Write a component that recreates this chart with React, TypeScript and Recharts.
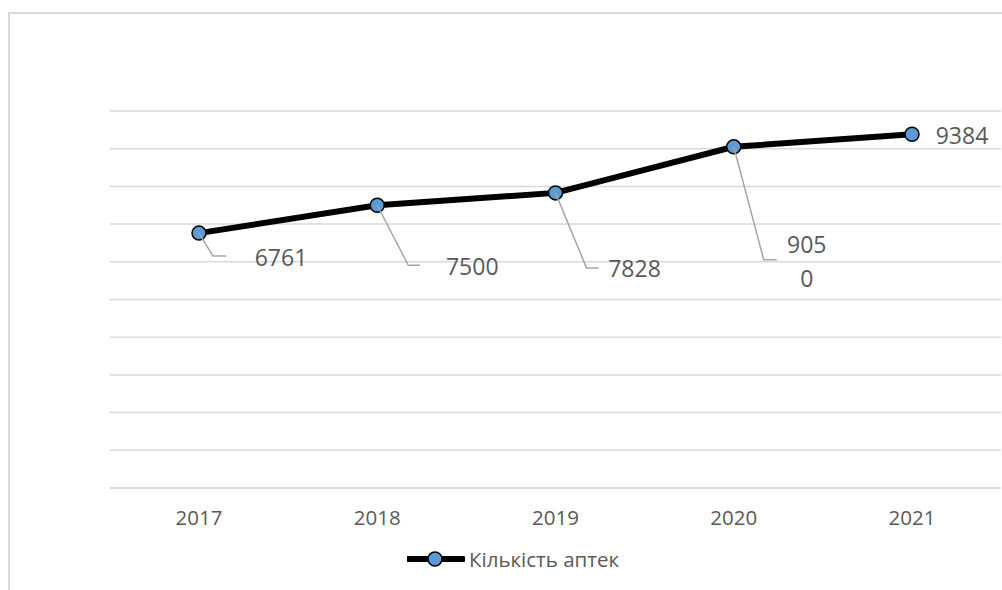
import { CartesianGrid, Line, LineChart, XAxis, YAxis } from "recharts";

const years = ["2017", "2018", "2019", "2020", "2021"];
const pharmacies = [6761, 7500, 7828, 9050, 9384];
const yTicks = [0, 1000, 2000, 3000, 4000, 5000, 6000, 7000, 8000, 9000, 10000];
const seriesName = "Кількість аптек";

const chartData = years.map((year, i) => ({ year, value: pharmacies[i] }));

const FONT = "'Open Sans', 'Noto Sans', sans-serif";
const TEXT = "#595959";
const GRID = "#d9d9d9";
const MARKER = "#5b9bd5";

// where each data label sits relative to its point, and the elbow of its leader line
const labelLayout = [
    { dx: 82, dy: 24, elbow: [14, 23], end: 27, wrap: 0 },
    { dx: 95, dy: 61, elbow: [31, 60], end: 43, wrap: 0 },
    { dx: 79, dy: 75, elbow: [31, 75], end: 43, wrap: 0 },
    { dx: 73, dy: 97, elbow: [30, 113], end: 43, wrap: 3 },
    { dx: 50, dy: 1, elbow: null, end: 0, wrap: 0 },
];

function LeaderLabel(props: any) {
    const { x, y, value, index } = props;
    const cfg = labelLayout[index];
    if (!cfg) return null;
    const text = String(value);
    const lines = cfg.wrap ? [text.slice(0, cfg.wrap), text.slice(cfg.wrap)] : [text];
    return (
        <g>
            {cfg.elbow && (
                <polyline
                    points={`${x},${y} ${x + cfg.elbow[0]},${y + cfg.elbow[1]} ${x + cfg.end},${y + cfg.elbow[1]}`}
                    fill="none"
                    stroke="#a6a6a6"
                    strokeWidth={1.5}
                />
            )}
            {lines.map((ln, i) => (
                <text
                    key={i}
                    x={x + cfg.dx}
                    y={y + cfg.dy + i * 34}
                    textAnchor="middle"
                    dominantBaseline="central"
                    fontFamily={FONT}
                    fontSize={23}
                    fill={TEXT}
                >
                    {ln}
                </text>
            ))}
        </g>
    );
}

function SeriesLegend() {
    return (
        <div
            style={{
                position: "absolute",
                left: 12,
                top: 545,
                width: 1002,
                display: "flex",
                justifyContent: "center",
                alignItems: "center",
                fontFamily: FONT,
                fontSize: 20.5,
                color: TEXT,
            }}
        >
            <svg width={58} height={20}>
                <line x1={1} y1={10} x2={56} y2={10} stroke="#000" strokeWidth={6} strokeLinecap="round" />
                <circle cx={28} cy={10} r={7} fill={MARKER} stroke="#000" strokeWidth={1.5} />
            </svg>
            <span style={{ marginLeft: 4 }}>{seriesName}</span>
        </div>
    );
}

export default function App() {
    return (
        <div style={{ position: "relative", width: 1002, height: 590, overflow: "hidden", background: "#fff" }}>
            <style>{`body{margin:0}`}</style>
            <div
                style={{
                    position: "absolute",
                    left: 8,
                    top: 12,
                    width: 1200,
                    height: 800,
                    border: `2px solid ${GRID}`,
                }}
            />
            <div style={{ position: "absolute", left: 0, top: 0 }}>
                <LineChart width={1002} height={590} data={chartData} margin={{ top: 111, right: 1, bottom: 62, left: 110 }}>
                    <CartesianGrid horizontal vertical={false} stroke={GRID} strokeWidth={1.5} />
                    <XAxis
                        dataKey="year"
                        height={40}
                        padding={{ left: 89, right: 89 }}
                        axisLine={{ stroke: GRID, strokeWidth: 1.5 }}
                        tickLine={false}
                        tickMargin={16}
                        tick={{ fontFamily: FONT, fontSize: 20.5, fill: TEXT }}
                    />
                    <YAxis hide domain={[0, 10000]} ticks={yTicks} />
                    <Line
                        dataKey="value"
                        name={seriesName}
                        stroke="#000"
                        strokeWidth={6}
                        dot={{ r: 7, fill: MARKER, stroke: "#000", strokeWidth: 1.5 }}
                        activeDot={false}
                        label={(p: any) => <LeaderLabel {...p} />}
                        isAnimationActive={false}
                    />
                </LineChart>
            </div>
            <SeriesLegend />
        </div>
    );
}
